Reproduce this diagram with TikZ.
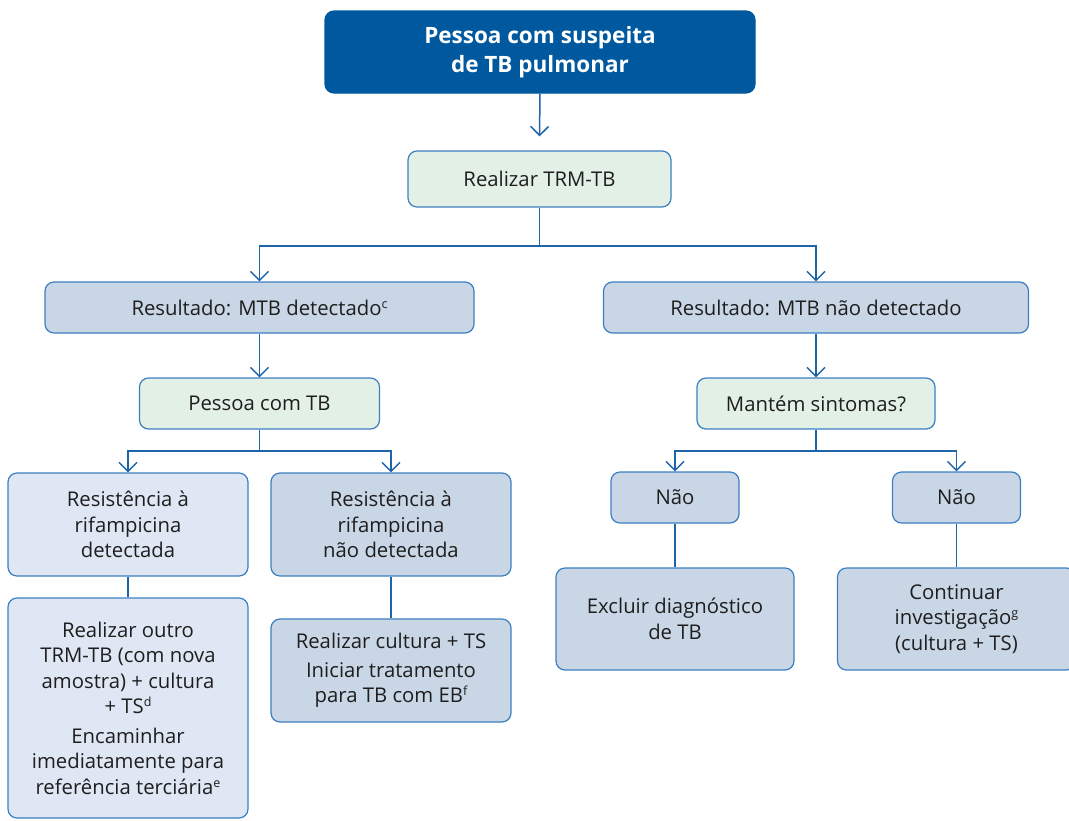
\documentclass[tikz,border=0pt]{standalone}
\usepackage{fontspec}
\setmainfont{Open Sans}
\usetikzlibrary{arrows.meta}
\definecolor{darkblue}{HTML}{00599F}
\definecolor{edge}{HTML}{3C7FC1}
\definecolor{conn}{HTML}{1F64A8}
\definecolor{greenfill}{HTML}{E2F0E6}
\definecolor{grayfill}{HTML}{C9D6E6}
\definecolor{lightfill}{HTML}{DFE7F4}
\definecolor{txt}{HTML}{1E1E1E}
\newcommand{\fnm}[1]{\raisebox{7pt}{\fontsize{12.5}{12.5}\selectfont #1}}
\tikzset{
  x=1pt, y=-1pt,
  box/.style={draw=edge, line width=1.2pt, rounded corners=9pt, align=center,
    inner sep=0pt, text=txt, font=\fontsize{20.3}{25.5}\selectfont},
  greenbox/.style={box, fill=greenfill},
  graybox/.style={box, fill=grayfill},
  lightbox/.style={box, fill=lightfill},
  topbox/.style={box, draw=darkblue, fill=darkblue, text=white,
    font=\fontsize{22.5}{29}\selectfont\bfseries},
  arr/.style={draw=conn, line width=1.5pt, -{Straight Barb[length=9pt,width=18pt,line width=1.5pt]}},
  ln/.style={draw=conn, line width=1.5pt},
}
\begin{document}
\begin{tikzpicture}
\useasboundingbox (0,0) rectangle (1069,820);
\node[topbox, minimum width=430pt, minimum height=82pt] (top) at (540,52) {Pessoa com suspeita\\de TB pulmonar};
\node[greenbox, minimum width=263pt, minimum height=56pt] (trm) at (539.5,179) {Realizar TRM-TB};
\node[graybox, minimum width=429pt, minimum height=51pt] (res1) at (259.5,307.5) {Resultado: MTB detectado\fnm{c}};
\node[graybox, minimum width=425pt, minimum height=51pt] (res2) at (816,307.5) {Resultado: MTB não detectado};
\node[greenbox, minimum width=240pt, minimum height=51pt] (ptb) at (259.5,403.5) {Pessoa com TB};
\node[greenbox, minimum width=238pt, minimum height=51pt] (mant) at (816,403.5) {Mantém sintomas?};
\node[lightbox, minimum width=240pt, minimum height=103pt] (rd) at (128,524.5) {Resistência à\\rifampicina\\detectada};
\node[graybox, minimum width=240pt, minimum height=103pt] (rnd) at (391,524.5) {Resistência à\\rifampicina\\não detectada};
\node[lightbox, minimum width=240pt, minimum height=220pt] (ro) at (128,708) {Realizar outro\\TRM-TB (com nova\\amostra) + cultura\\+ TS\fnm{d}\\[4pt]Encaminhar\\imediatamente para\\referência terciária\fnm{e}};
\node[graybox, minimum width=240pt, minimum height=103pt] (rc) at (391,670.5) {Realizar cultura + TS\\[3pt]Iniciar tratamento\\para TB com EB\fnm{f}};
\node[graybox, minimum width=128pt, minimum height=51pt] (nao1) at (675,497.5) {Não};
\node[graybox, minimum width=128pt, minimum height=51pt] (nao2) at (956.5,497.5) {Não};
\node[graybox, minimum width=238pt, minimum height=102pt] (exc) at (675,619) {Excluir diagnóstico\\de TB};
\node[graybox, minimum width=238pt, minimum height=102pt] (cont) at (956.5,619) {Continuar\\investigação\fnm{g}\\(cultura + TS)};

\coordinate (a1) at ([yshift=14pt]trm.north);
\draw[arr] (top.south) -- (a1);
\coordinate (j1) at (trm.south |- 0,246);
\draw[arr] (trm.south) -- (j1) -| (res1.north);
\draw[arr] (j1) -| (res2.north);
\draw[arr] (res1.south) -- (ptb.north);
\draw[arr] (res2.south) -- (mant.north);
\coordinate (j2) at (ptb.south |- 0,451);
\draw[arr] (ptb.south) -- (j2) -| (rd.north);
\draw[arr] (j2) -| (rnd.north);
\coordinate (j3) at (mant.south |- 0,451);
\draw[arr] (mant.south) -- (j3) -| (nao1.north);
\draw[arr] (j3) -| (nao2.north);
\draw[ln] (rd.south) -- (ro.north);
\draw[ln] (rnd.south) -- (rc.north);
\draw[ln] (nao1.south) -- (exc.north);
\draw[ln] (nao2.south) -- (cont.north);
\end{tikzpicture}
\end{document}
